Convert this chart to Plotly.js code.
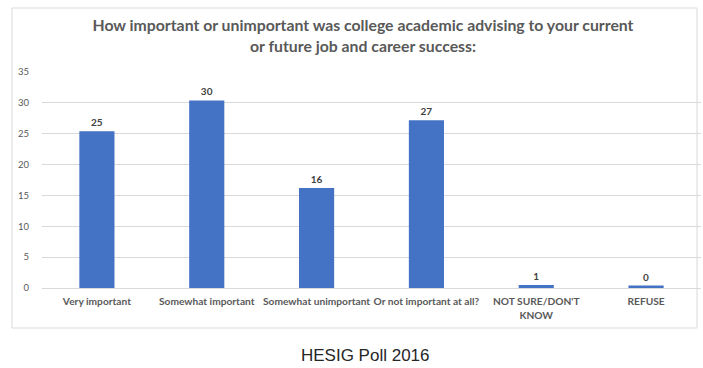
<!DOCTYPE html>
<html>
<head>
<meta charset="utf-8">
<script src="https://cdn.plot.ly/plotly-3.0.1.min.js"></script>
<style>html,body{margin:0;padding:0;background:#fff;}#chart{width:703px;height:368px;}</style>
</head>
<body>
<div id="chart"></div>
<script>
const categories = ["Very important", "Somewhat important", "Somewhat unimportant", "Or not important at all?", "NOT SURE/DON'T KNOW", "REFUSE"];
const categoryLabels = ["Very important", "Somewhat important", "Somewhat unimportant", "Or not important at all?", "NOT SURE/DON'T<br>KNOW", "REFUSE"];
const values = [25.4, 30.4, 16.2, 27.2, 0.5, 0.4];
const valueLabels = ["25", "30", "16", "27", "1", "0"];
const yTicks = [0, 5, 10, 15, 20, 25, 30, 35];

const W = 703, H = 368;
const L = 42, R = 701, T = 72, B = 288;
const px = x => (x - L) / (R - L);
const py = y => (B - y) / (B - T);

const trace = {
  type: 'bar',
  x: categories,
  y: values,
  text: valueLabels,
  textposition: 'outside',
  cliponaxis: false,
  textfont: {family: 'Lato, sans-serif', size: 10, color: '#404040', weight: 'bold'},
  marker: {color: '#4472C4'},
  hoverinfo: 'none'
};

const layout = {
  width: W, height: H,
  margin: {l: L, r: W - R, t: T, b: H - B, pad: 0},
  paper_bgcolor: '#fff', plot_bgcolor: '#fff',
  showlegend: false,
  bargap: 0.68,
  title: {
    text: 'How important or unimportant was college academic advising to your current<br>or future job and career success:',
    font: {family: 'Lato, sans-serif', size: 15.8, color: '#595959', weight: 'bold'},
    x: 363 / W, xanchor: 'center', xref: 'container',
    y: 1 - 31 / H, yanchor: 'top', yref: 'container'
  },
  xaxis: {
    type: 'category',
    tickvals: categories,
    ticktext: categoryLabels,
    tickfont: {family: 'Lato, sans-serif', size: 10.2, color: '#595959', weight: 'bold'},
    showgrid: false, zeroline: false,
    showline: true, linecolor: '#d9d9d9', linewidth: 1,
    ticks: 'outside', ticklen: 4, tickcolor: 'rgba(0,0,0,0)', tickangle: 0,
    fixedrange: true
  },
  yaxis: {
    range: [0, 35],
    tickvals: yTicks,
    tickfont: {family: 'Lato, sans-serif', size: 9.5, color: '#595959'},
    showgrid: true, gridcolor: '#d9d9d9', gridwidth: 1,
    zeroline: false, showline: false,
    ticks: 'outside', ticklen: 10, tickcolor: 'rgba(0,0,0,0)',
    fixedrange: true
  },
  shapes: [{
    type: 'rect', xref: 'paper', yref: 'paper', layer: 'below',
    x0: px(12), x1: px(697), y0: py(328), y1: py(8),
    line: {color: '#d9d9d9', width: 1}, fillcolor: 'rgba(0,0,0,0)'
  }],
  annotations: [{
    text: 'HESIG Poll 2016',
    xref: 'paper', yref: 'paper',
    x: px(365), y: py(355), xanchor: 'center', yanchor: 'middle',
    showarrow: false,
    font: {family: 'Liberation Sans, Arial, sans-serif', size: 17, color: '#262626'}
  }]
};

Plotly.newPlot('chart', [trace], layout, {displayModeBar: false, staticPlot: true});
</script>
</body>
</html>
